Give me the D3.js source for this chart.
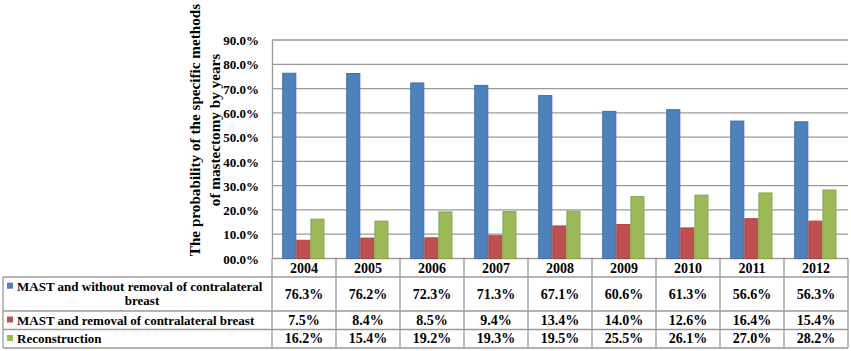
<!DOCTYPE html>
<html>
<head>
<meta charset="utf-8">
<script src="https://cdn.jsdelivr.net/npm/d3@7"></script>
<style>
  html, body { margin: 0; padding: 0; background: #fff; }
  svg { display: block; }
  text { font-family: "Liberation Serif", "Times New Roman", serif; font-weight: bold; fill: #000; }
</style>
</head>
<body>
<svg id="chart" width="851" height="351"></svg>
<script>
// ---- data ----
const years = ["2004", "2005", "2006", "2007", "2008", "2009", "2010", "2011", "2012"];
const mastWithout = [76.3, 76.2, 72.3, 71.3, 67.1, 60.6, 61.3, 56.6, 56.3];
const mastRemoval = [7.5, 8.4, 8.5, 9.4, 13.4, 14.0, 12.6, 16.4, 15.4];
const reconstruction = [16.2, 15.4, 19.2, 19.3, 19.5, 25.5, 26.1, 27.0, 28.2];
const seriesNames = ["MAST and without removal of contralateral breast", "MAST and removal of contralateral breast", "Reconstruction"];
const yTickValues = [0, 10, 20, 30, 40, 50, 60, 70, 80, 90];
const titleLines = ["The probability of the specific methods", "of mastectomy by years"];

const seriesData = [mastWithout, mastRemoval, reconstruction];
const colors = ["#4F81BD", "#C0504D", "#9BBB59"];
const strokes = ["#3f6fa9", "#ac4441", "#88a84a"];
const serif = '"Liberation Serif", "Times New Roman", serif';

const svg = d3.select("#chart");

const plotLeft = 272, plotRight = 848, plotTop = 40, plotBottom = 258.5;
const tableLeft = 3;
const rowLines = [277, 311, 329.5, 348];
const gridColor = "#9a9a9a";

const x = d3.scaleBand().domain(years).range([plotLeft, plotRight]).padding(0);
const bw = x.bandwidth();
const xs = d3.scaleBand().domain(d3.range(3)).range([bw * 0.16, bw * 0.82]).padding(0);
const y = d3.scaleLinear().domain([0, 90]).range([plotBottom, plotTop]);

// gridlines
svg.append("g").selectAll("line").data(yTickValues).join("line")
  .attr("x1", plotLeft).attr("x2", plotRight)
  .attr("y1", d => y(d)).attr("y2", d => y(d))
  .attr("stroke", gridColor).attr("stroke-width", 1.3);

// y axis
const fmt = d => d === 0 ? "00.0%" : d3.format(".1f")(d) + "%";
const yAxis = svg.append("g").attr("transform", `translate(${plotLeft},0)`)
  .call(d3.axisLeft(y).tickValues(yTickValues).tickSize(0).tickPadding(13).tickFormat(fmt));
yAxis.attr("font-family", serif);
yAxis.select(".domain").attr("stroke", gridColor).attr("stroke-width", 1.3);
yAxis.selectAll("text").style("font-size", "13px").style("font-family", serif)
  .style("font-weight", "bold").attr("fill", "#000").attr("dy", "0.36em");

// bars
const groups = svg.append("g").selectAll("g").data(years).join("g")
  .attr("transform", d => `translate(${x(d)},0)`);
groups.selectAll("rect").data((d, i) => seriesData.map((s, k) => ({k, v: s[i]}))).join("rect")
  .attr("x", d => xs(d.k) + 0.5)
  .attr("width", xs.bandwidth() - 1)
  .attr("y", d => y(d.v))
  .attr("height", d => plotBottom - y(d.v))
  .attr("fill", d => colors[d.k])
  .attr("stroke", d => strokes[d.k])
  .attr("stroke-width", 1);

// title
const title = svg.append("g").attr("transform", "translate(0,130) rotate(-90)");
title.selectAll("text").data(titleLines).join("text")
  .attr("x", 0).attr("y", (d, i) => 200 + i * 19.5)
  .attr("text-anchor", "middle")
  .style("font-size", "15.2px")
  .text(d => d);

// table lines
const tg = svg.append("g").attr("stroke", gridColor).attr("stroke-width", 1.3);
rowLines.forEach(ly => {
  tg.append("line").attr("x1", tableLeft).attr("x2", plotRight).attr("y1", ly).attr("y2", ly);
});
tg.append("line").attr("x1", tableLeft).attr("x2", tableLeft).attr("y1", rowLines[0]).attr("y2", rowLines[3]);
const bounds = years.map(d => x(d)).concat([plotRight]);
tg.selectAll(".v").data(bounds).join("line")
  .attr("x1", d => d).attr("x2", d => d)
  .attr("y1", plotBottom).attr("y2", rowLines[3]);

// year header
svg.append("g").selectAll("text").data(years).join("text")
  .attr("x", d => x(d) + bw / 2).attr("y", 272.5)
  .attr("text-anchor", "middle").style("font-size", "14px")
  .text(d => d);

// values
const valueBaselines = [298.7, 324.8, 343.2];
seriesData.forEach((s, k) => {
  svg.append("g").selectAll("text").data(s).join("text")
    .attr("x", (d, i) => x(years[i]) + bw / 2).attr("y", valueBaselines[k])
    .attr("text-anchor", "middle").style("font-size", "14px")
    .text(d => d3.format(".1f")(d) + "%");
});

// legend labels
const legendLines = [
  [{t: "MAST and without removal of contralateral", x: 17, y: 290.7, anchor: "start"},
   {t: "breast", x: 142, y: 305, anchor: "middle"}],
  [{t: "MAST and removal of contralateral breast", x: 17, y: 324.5, anchor: "start"}],
  [{t: "Reconstruction", x: 17, y: 343, anchor: "start"}]
];
legendLines.forEach((lines, k) => {
  svg.append("rect").attr("x", 7).attr("y", lines[0].y - 8).attr("width", 6).attr("height", 6)
    .attr("fill", colors[k]);
  lines.forEach(l => {
    svg.append("text").attr("x", l.x).attr("y", l.y).attr("text-anchor", l.anchor)
      .style("font-size", "13px").text(l.t);
  });
});
</script>
</body>
</html>
